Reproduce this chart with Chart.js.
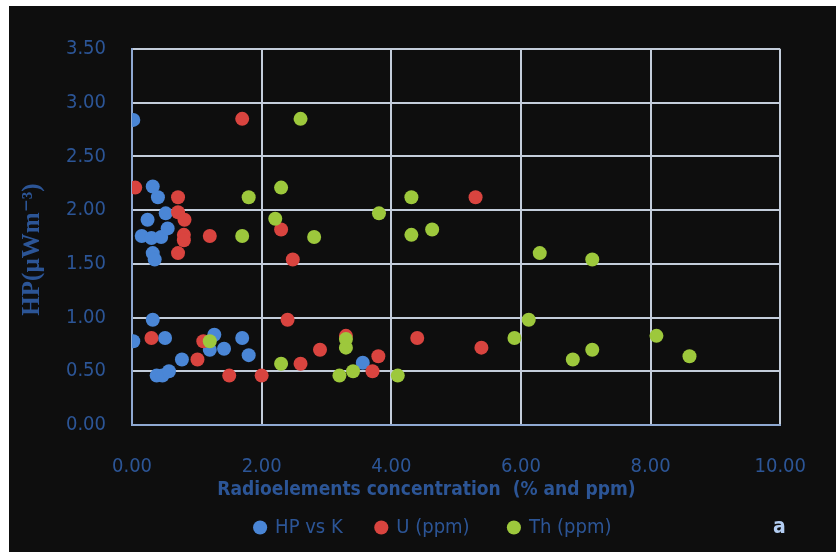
<!DOCTYPE html>
<html>
<head>
<meta charset="utf-8">
<script src="https://cdn.jsdelivr.net/npm/chart.js@4/dist/chart.umd.min.js"></script>
<style>
  html, body { margin: 0; padding: 0; background: #ffffff; overflow: hidden; }
  #wrap { position: absolute; left: 9px; top: 6px; width: 827px; height: 546px; background: #0e0e0e; }
  #tag { position: absolute; left: 773px; top: 514px; color: #b3cdf2; font: bold 21px 'DejaVu Sans Condensed', 'DejaVu Sans', sans-serif; }
</style>
</head>
<body>
<div id="wrap">
  <canvas id="chart" width="827" height="546"></canvas>
</div>
<div id="tag">a</div>
<script>
// HP vs K
const kX  = [0.02, 0.32, 0.40, 0.52, 0.24, 0.15, 0.30, 0.45, 0.55, 0.32, 0.35, 0.32, 0.02, 0.51, 1.27, 1.20, 1.42, 1.70, 1.80, 0.77, 0.38, 0.47, 0.57, 3.56]
const kHP = [2.84, 2.22, 2.12, 1.97, 1.91, 1.76, 1.74, 1.75, 1.83, 1.60, 1.54, 0.98, 0.78, 0.81, 0.84, 0.70, 0.71, 0.81, 0.65, 0.61, 0.46, 0.46, 0.50, 0.58]
// U (ppm)
const uX  = [0.05, 0.71, 0.71, 0.81, 0.80, 0.80, 1.20, 0.71, 0.30, 1.10, 1.01, 1.50, 2.00, 1.70, 2.30, 2.48, 2.40, 3.30, 2.90, 2.60, 3.80, 3.71, 4.40, 5.30, 5.39]
const uHP = [2.21, 2.12, 1.98, 1.91, 1.77, 1.72, 1.76, 1.60, 0.81, 0.78, 0.61, 0.46, 0.46, 2.85, 1.82, 1.54, 0.98, 0.83, 0.70, 0.57, 0.64, 0.50, 0.81, 2.12, 0.72]
// Th (ppm)
const thX  = [1.80, 1.70, 1.20, 2.60, 2.30, 2.21, 2.81, 3.81, 4.31, 4.31, 4.63, 6.29, 7.10, 6.12, 5.90, 6.80, 7.10, 8.09, 8.60, 3.30, 3.30, 2.30, 3.20, 3.41, 4.10]
const thHP = [2.12, 1.76, 0.78, 2.85, 2.21, 1.92, 1.75, 1.97, 2.12, 1.77, 1.82, 1.60, 1.54, 0.98, 0.81, 0.61, 0.70, 0.83, 0.64, 0.80, 0.72, 0.57, 0.46, 0.50, 0.46]

const seriesNames = ["HP vs K", "U (ppm)", "Th (ppm)"]
const COLORS = ["#4a86d6", "#d9443f", "#9dc83c"]
const BLUE_TEXT = "#2c5596"
const GRID = "#c3cddb"

const FONT = "'DejaVu Sans Condensed', 'DejaVu Sans', sans-serif"
Chart.defaults.font.family = FONT

const toPoints = (xs, ys) => xs.map((x, i) => ({ x, y: ys[i] }))

const datasets = [[kX, kHP], [uX, uHP], [thX, thHP]].map(([xs, ys], idx) => ({
  label: seriesNames[idx],
  data: toPoints(xs, ys),
  backgroundColor: COLORS[idx],
  borderColor: COLORS[idx],
  pointRadius: 7,
  pointHoverRadius: 7,
  pointBorderWidth: 0,
  order: 2 - idx   // green drawn on top
}))

// spacing after legend entries (last one pulls the row left a bit)
const legendGap = [" ".repeat(5), " ".repeat(6), " ".repeat(8)]

new Chart(document.getElementById("chart"), {
  type: "scatter",
  data: { datasets },
  options: {
    responsive: false,
    animation: false,
    layout: { padding: { left: 0, right: 38, top: 43, bottom: 4.5 } },
    plugins: {
      tooltip: { enabled: false },
      legend: {
        position: "bottom",
        fullSize: false,
        labels: {
          usePointStyle: true,
          pointStyle: "circle",
          boxWidth: 10,
          boxHeight: 10,
          padding: 5,
          color: BLUE_TEXT,
          font: { size: 20 },
          sort: (a, b) => a.datasetIndex - b.datasetIndex,
          generateLabels: chart => {
            const items = Chart.defaults.plugins.legend.labels.generateLabels(chart)
            items.forEach(it => { it.text = it.text + legendGap[it.datasetIndex] })
            return items
          }
        }
      }
    },
    scales: {
      x: {
        type: "linear",
        min: 0, max: 10,
        afterFit: s => { s.height = 87.5 },
        ticks: { stepSize: 2, padding: 30, color: BLUE_TEXT, font: { size: 20 }, callback: v => v.toFixed(2) },
        grid: { color: GRID, lineWidth: 2, drawTicks: false },
        border: { color: "#8fa9d2", width: 2 },
        title: {
          display: true,
          text: "Radioelements concentration  (% and ppm)" + " ".repeat(10),
          color: BLUE_TEXT,
          font: { size: 19, weight: "bold" },
          padding: { top: 0, bottom: 11.1 }
        }
      },
      y: {
        min: 0, max: 3.5,
        afterFit: s => { s.width = 123 },
        ticks: { stepSize: 0.5, padding: 26, color: BLUE_TEXT, font: { size: 20 }, callback: v => v.toFixed(2) },
        grid: { color: GRID, lineWidth: 2, drawTicks: false },
        border: { color: "#8fa9d2", width: 2 },
        title: {
          display: true,
          text: "HP(\u00b5Wm\u207b\u00b3)    ",
          color: BLUE_TEXT,
          font: { family: "'Liberation Serif', 'DejaVu Serif', serif", size: 25, weight: "bold" },
          padding: { top: 9, bottom: 0 }
        }
      }
    }
  }
})
</script>
</body>
</html>
